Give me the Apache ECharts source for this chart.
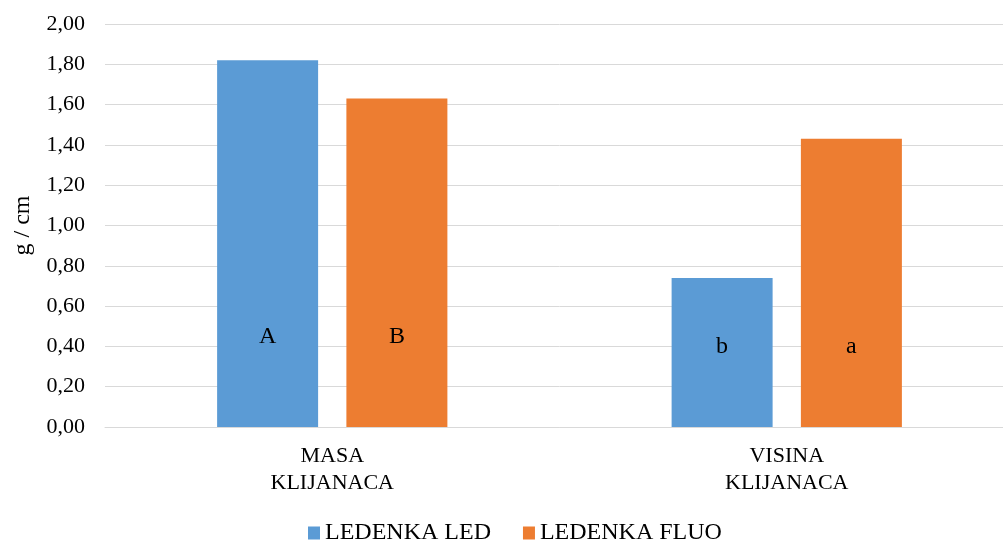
<!DOCTYPE html>
<html><head><meta charset="utf-8">
<script src="https://cdn.jsdelivr.net/npm/echarts@6/dist/echarts.min.js"></script>
<style>html,body{margin:0;padding:0;background:#fff;overflow:hidden}#c{width:1014px;height:542px}</style>
</head><body><div id="c"></div>
<script>
const categories = ['MASA\nKLIJANACA', 'VISINA\nKLIJANACA'];
const seriesNames = ['LEDENKA LED', 'LEDENKA FLUO'];
const ledValues = [1.82, 0.74];
const fluoValues = [1.63, 1.43];
const ledLetters = ['A', 'b'];
const fluoLetters = ['B', 'a'];
const yTicks = [0, 0.2, 0.4, 0.6, 0.8, 1.0, 1.2, 1.4, 1.6, 1.8, 2.0];

const FONT = '"Liberation Serif", "Times New Roman", serif';
const colors = ['#5B9BD5', '#ED7D31'];

function mkData(vals, letters) {
  return vals.map((v, i) => ({
    value: v,
    label: {
      show: true,
      formatter: letters[i],
      position: 'insideBottom',
      distance: i === 0 ? 78 : 68,
      color: '#000',
      fontFamily: FONT,
      fontSize: 24
    }
  }));
}

const chart = echarts.init(document.getElementById('c'));
chart.setOption({
  animation: false,
  color: colors,
  grid: { left: 105, top: 24, right: 0, height: 403, containLabel: false },
  legend: {
    data: seriesNames,
    left: 303,
    top: 516,
    itemWidth: 12,
    itemHeight: 13,
    itemGap: 32,
    icon: 'rect',
    textStyle: { fontFamily: FONT, fontSize: 24, color: '#000' }
  },
  xAxis: {
    type: 'category',
    data: categories,
    axisLine: { show: true, lineStyle: { color: '#D9D9D9', width: 1 } },
    axisTick: { show: false },
    axisLabel: { fontFamily: FONT, fontSize: 22, color: '#000', lineHeight: 27, margin: 16 }
  },
  yAxis: {
    type: 'value',
    min: 0,
    max: 2,
    interval: 0.2,
    name: 'g / cm',
    nameLocation: 'middle',
    nameGap: 70,
    nameTextStyle: { fontFamily: FONT, fontSize: 24, color: '#000' },
    axisLine: { show: false },
    axisTick: { show: false },
    splitLine: { lineStyle: { color: '#D9D9D9', width: 1 } },
    axisLabel: {
      fontFamily: FONT, fontSize: 22, color: '#000', margin: 20,
      formatter: v => v.toFixed(2).replace('.', ',')
    }
  },
  series: [
    { name: seriesNames[0], type: 'bar', barWidth: 101, barGap: '28%', data: mkData(ledValues, ledLetters) },
    { name: seriesNames[1], type: 'bar', barWidth: 101, barGap: '28%', data: mkData(fluoValues, fluoLetters) }
  ]
});
</script></body></html>
